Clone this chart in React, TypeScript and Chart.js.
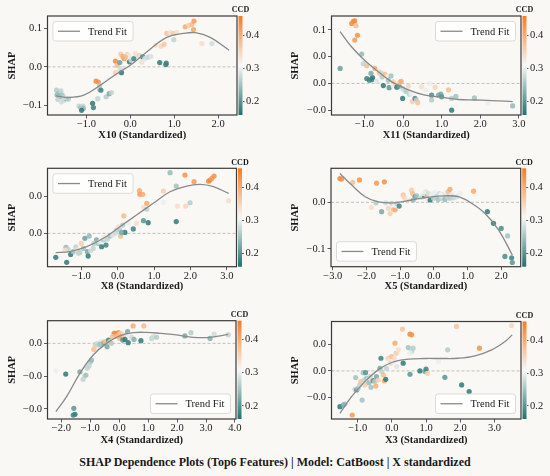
import React, { useEffect, useRef } from 'react';
import { Chart, registerables } from 'chart.js';

Chart.register(...registerables);

// ---------------- data ----------------
const TITLE = 'SHAP Dependence Plots (Top6 Features) | Model: CatBoost | X standardized';
const FEATURES = ['X10', 'X11', 'X8', 'X5', 'X4', 'X3'];

const CB_MIN = 0.16;
const CB_MAX = 0.457;
const CB_TICKS = [0.2, 0.3, 0.4];

// X10
const X10_X = [
  -1.68, -1.62, -1.58, -1.61, -1.65, -1.55, -1.52, -1.46, -1.41, -1.57,
  -1.67, -1.50, -1.17, -1.13, -1.08, -1.07, -1.11, -0.86, -0.84, -0.78,
  -0.73, -0.70, -0.70, -0.67, -0.74, -0.55, -0.48, -0.43, -0.34, -0.30,
  -0.34, -0.29, -0.24, -0.23, -0.20, -0.22, -0.17, -0.14, -0.07, -0.03,
  -0.02, 0.02, 0.08, 0.20, 0.23, 0.26, 0.28, 0.33, 0.38, 0.43,
  0.47, 0.58, 0.67, 0.70, 0.77, 0.81, 0.82, 0.83, 0.91, 0.98,
  1.06, 0.99, 1.25, 1.33, 1.40, 1.45, 1.44, 1.63, 1.86, -0.11,
  0.12,
];
const X10_SHAP = [
  -0.060, -0.067, -0.062, -0.077, -0.084, -0.073, -0.086, -0.082, -0.083, -0.090,
  -0.072, -0.079, -0.101, -0.105, -0.101, -0.107, -0.112, -0.094, -0.105, -0.037,
  -0.039, -0.048, -0.058, -0.060, -0.082, -0.077, -0.069, -0.066, 0.015, 0.004,
  -0.015, -0.015, 0.011, -0.004, -0.015, 0.033, 0.027, 0.021, 0.032, 0.029,
  0.013, 0.017, 0.021, 0.029, 0.026, 0.012, 0.026, 0.021, 0.024, 0.026,
  0.027, 0.056, 0.011, 0.053, 0.058, 0.006, 0.010, 0.086, 0.088, 0.086,
  0.089, 0.070, 0.103, 0.107, 0.109, 0.118, 0.096, 0.060, 0.060, 0.025,
  0.034,
];
const X10_CCD = [
  0.26, 0.25, 0.27, 0.24, 0.27, 0.25, 0.27, 0.24, 0.26, 0.28,
  0.24, 0.28, 0.27, 0.25, 0.27, 0.24, 0.17, 0.17, 0.18, 0.44,
  0.43, 0.26, 0.27, 0.18, 0.27, 0.26, 0.22, 0.27, 0.44, 0.38,
  0.36, 0.34, 0.21, 0.28, 0.17, 0.36, 0.40, 0.42, 0.35, 0.33,
  0.17, 0.28, 0.18, 0.27, 0.33, 0.34, 0.18, 0.29, 0.28, 0.27,
  0.29, 0.34, 0.17, 0.35, 0.37, 0.17, 0.18, 0.37, 0.34, 0.36,
  0.34, 0.27, 0.40, 0.36, 0.38, 0.42, 0.41, 0.34, 0.28, 0.38,
  0.34,
];
const X10_TREND_X = [-1.70, -1.44, -1.06, -0.68, -0.30, 0.00, 0.38, 0.83, 1.21, 1.48, 1.82, 2.25];
const X10_TREND_Y = [-0.075, -0.079, -0.073, -0.047, -0.017, 0.004, 0.039, 0.076, 0.086, 0.088, 0.076, 0.043];

// X11
const X11_X = [
  -1.33, -1.29, -1.25, -1.22, -1.18, -1.25, -1.63, -1.07, -1.03, -0.94,
  -0.94, -0.87, -0.81, -0.79, -0.83, -0.73, -0.64, -0.60, -0.57, -0.54,
  -0.51, -0.47, -0.42, -0.38, -0.36, -0.31, -0.25, -0.19, -0.16, -0.10,
  -0.08, -0.05, -0.01, -0.01, 0.03, 0.08, 0.14, 0.16, 0.21, 0.24,
  0.31, 0.35, 0.38, 0.48, 0.57, 0.70, 0.74, 0.74, 0.83, 0.92,
  0.98, 1.00, 1.18, 1.26, 1.37, 1.26, 1.85, 2.20, 2.84, -0.68,
  -0.25,
];
const X11_SHAP = [
  0.112, 0.116, 0.117, 0.108, 0.090, 0.081, 0.028, 0.055, 0.037, 0.033,
  0.009, 0.006, 0.007, 0.011, 0.019, 0.028, 0.023, 0.019, 0.020, 0.012,
  -0.004, 0.017, 0.012, 0.006, -0.008, 0.014, -0.005, -0.003, -0.007, -0.005,
  0.002, 0.004, -0.009, -0.028, -0.012, -0.015, -0.005, -0.020, -0.019, -0.034,
  -0.028, -0.031, -0.036, -0.006, -0.012, 0.000, -0.022, -0.031, -0.007, -0.022,
  -0.020, -0.025, -0.012, -0.028, -0.024, -0.050, -0.027, -0.037, -0.042, 0.004,
  0.003,
];
const X11_CCD = [
  0.44, 0.43, 0.44, 0.38, 0.43, 0.42, 0.21, 0.24, 0.27, 0.38,
  0.18, 0.18, 0.18, 0.17, 0.22, 0.40, 0.34, 0.38, 0.28, 0.26,
  0.17, 0.38, 0.32, 0.25, 0.20, 0.25, 0.30, 0.34, 0.17, 0.21,
  0.38, 0.40, 0.27, 0.17, 0.28, 0.26, 0.35, 0.27, 0.30, 0.36,
  0.19, 0.27, 0.37, 0.34, 0.30, 0.30, 0.19, 0.26, 0.35, 0.22,
  0.22, 0.20, 0.38, 0.26, 0.25, 0.17, 0.25, 0.30, 0.24, 0.29,
  0.36,
];
const X11_TREND_X = [-1.63, -1.33, -0.99, -0.64, -0.29, 0.14, 0.57, 1.00, 1.44, 1.87, 2.30, 2.84];
const X11_TREND_Y = [0.097, 0.068, 0.043, 0.022, 0.003, -0.012, -0.022, -0.026, -0.030, -0.031, -0.032, -0.034];

// X8
const X8_X = [
  -1.70, -1.40, -1.42, -1.36, -1.45, -1.29, -1.22, -1.15, -1.11, -1.04,
  -1.00, -0.94, -0.90, -0.83, -0.81, -0.78, -0.74, -0.67, -0.58, -0.53,
  -0.49, -0.44, -0.39, -0.38, -0.32, -0.28, -0.21, -0.14, -0.07, -0.03,
  0.02, 0.06, 0.08, 0.14, 0.17, 0.20, 0.11, 0.29, 0.43, 0.52,
  0.60, 0.61, 0.69, 0.71, 0.72, 0.80, 0.80, 0.84, 1.26, 1.26,
  1.44, 1.61, 1.61, 1.64, 1.85, 1.87, 1.99, 2.10, 2.50, 2.54,
  2.59, 2.65, 3.05, -1.08, -0.65,
];
const X8_SHAP = [
  -0.0131, -0.0158, -0.0076, -0.0087, -0.0091, -0.0115, -0.0100, -0.0073, -0.0091, -0.0105,
  -0.0055, -0.0082, -0.0027, -0.0100, -0.0124, -0.0015, -0.0095, -0.0082, -0.0036, -0.0055,
  -0.0045, -0.0073, -0.0036, -0.0022, -0.0064, -0.0031, -0.0015, -0.0009, 0.0000, 0.0018,
  0.0036, 0.0018, -0.0015, 0.0045, 0.0095, 0.0005, 0.0004, 0.0055, 0.0024, 0.0055,
  0.0233, 0.0213, 0.0213, 0.0069, 0.0142, 0.0164, 0.0131, 0.0058, 0.0231, 0.0169,
  0.0331, 0.0258, 0.0064, 0.0149, 0.0318, 0.0149, 0.0167, 0.0282, 0.0285, 0.0291,
  0.0300, 0.0313, 0.0178, -0.0109, -0.0055,
];
const X8_CCD = [
  0.17, 0.17, 0.24, 0.27, 0.34, 0.17, 0.25, 0.27, 0.34, 0.26,
  0.36, 0.25, 0.21, 0.22, 0.17, 0.24, 0.28, 0.27, 0.22, 0.25,
  0.30, 0.17, 0.26, 0.33, 0.18, 0.27, 0.25, 0.29, 0.28, 0.27,
  0.34, 0.26, 0.38, 0.26, 0.38, 0.17, 0.22, 0.30, 0.18, 0.34,
  0.40, 0.42, 0.40, 0.20, 0.34, 0.40, 0.27, 0.17, 0.36, 0.30,
  0.24, 0.25, 0.17, 0.34, 0.43, 0.35, 0.26, 0.42, 0.44, 0.44,
  0.42, 0.43, 0.34, 0.27, 0.26,
];
const X8_TREND_X = [-1.70, -1.31, -0.85, -0.39, 0.06, 0.52, 0.98, 1.44, 1.90, 2.27, 2.63, 3.05];
const X8_TREND_Y = [-0.0105, -0.0100, -0.0073, -0.0027, 0.0036, 0.0100, 0.0164, 0.0227, 0.0258, 0.0267, 0.0255, 0.0218];

// X5
const X5_X = [
  -2.79, -2.74, -2.41, -2.21, -1.70, -1.47, -1.85, -1.72, -1.55, -1.43,
  -1.35, -1.30, -1.20, -1.15, -1.25, -1.17, -1.10, -1.03, -0.91, -0.88,
  -0.83, -0.66, -0.63, -0.71, -0.56, -0.51, -0.36, -0.28, -0.24, -0.21,
  -0.18, -0.16, -0.11, -0.06, -0.01, 0.03, 0.08, 0.13, 0.16, 0.23,
  0.28, 0.33, 0.35, 0.41, 0.43, 0.48, 0.48, 0.53, 0.58, 0.68,
  0.78, 1.18, 1.59, 1.77, 2.00, 2.19, 2.11, 2.31, 2.33, -0.32,
  0.21, -0.61,
];
const X5_SHAP = [
  0.051, 0.050, 0.043, 0.048, 0.041, 0.044, -0.011, -0.001, -0.020, -0.001,
  -0.013, -0.024, -0.015, -0.016, -0.002, -0.006, -0.002, -0.008, 0.016, 0.011,
  0.005, 0.026, 0.019, 0.005, 0.012, 0.014, 0.011, 0.014, 0.023, 0.012,
  0.006, 0.019, 0.005, 0.016, 0.009, 0.021, 0.012, 0.006, 0.019, 0.009,
  0.016, 0.006, 0.021, 0.012, 0.023, 0.028, 0.009, 0.016, 0.010, 0.012,
  0.019, 0.024, -0.020, -0.045, -0.056, -0.072, -0.116, -0.119, -0.129, 0.019,
  0.016, 0.005,
];
const X5_CCD = [
  0.44, 0.43, 0.38, 0.43, 0.42, 0.43, 0.34, 0.26, 0.22, 0.28,
  0.35, 0.36, 0.38, 0.40, 0.27, 0.30, 0.27, 0.18, 0.37, 0.35,
  0.34, 0.36, 0.38, 0.33, 0.20, 0.25, 0.28, 0.18, 0.29, 0.38,
  0.30, 0.28, 0.17, 0.30, 0.26, 0.30, 0.27, 0.25, 0.28, 0.27,
  0.26, 0.24, 0.30, 0.27, 0.38, 0.40, 0.26, 0.29, 0.27, 0.28,
  0.30, 0.40, 0.17, 0.17, 0.19, 0.25, 0.19, 0.18, 0.20, 0.30,
  0.31, 0.24,
];
const X5_TREND_X = [-2.79, -2.44, -2.04, -1.65, -1.15, -0.66, -0.16, 0.33, 0.73, 1.12, 1.52, 1.92, 2.33];
const X5_TREND_Y = [0.062, 0.037, 0.012, 0.001, -0.001, 0.005, 0.011, 0.014, 0.012, -0.002, -0.024, -0.059, -0.113];

// X4
const X4_X = [
  -2.19, -1.85, -1.57, -1.53, -1.59, -1.36, -1.25, -1.19, -1.15, -1.11,
  -1.04, -0.99, -0.96, -0.88, -0.83, -0.81, -0.73, -0.69, -0.61, -0.55,
  -0.50, -0.67, -0.42, -0.37, -0.32, -0.27, -0.18, -0.15, -0.09, -0.03,
  0.00, 0.05, 0.02, 0.08, 0.12, 0.16, 0.20, 0.31, 0.29, 0.35,
  0.43, 0.48, 0.51, 0.75, 0.85, 1.12, 1.18, 1.29, 2.27, 2.48,
  3.14, 3.28, 3.77, -0.23, -0.07,
];
const X4_SHAP = [
  -0.0167, -0.0187, -0.0396, -0.0432, -0.0437, -0.0173, -0.0219, -0.0199, -0.0193, -0.0152,
  -0.0136, -0.0112, -0.0102, -0.0037, -0.0014, -0.0004, 0.0000, -0.0010, 0.0010, 0.0000,
  0.0010, -0.0006, -0.0020, 0.0020, 0.0010, 0.0000, 0.0061, 0.0061, 0.0051, 0.0065,
  0.0057, 0.0061, 0.0030, 0.0041, 0.0020, 0.0051, 0.0024, 0.0004, 0.0071, 0.0051,
  0.0037, 0.0106, 0.0024, 0.0016, 0.0106, 0.0030, 0.0041, 0.0037, 0.0045, 0.0065,
  0.0030, 0.0057, 0.0053, 0.0041, 0.0045,
];
const X4_CCD = [
  0.30, 0.17, 0.20, 0.17, 0.18, 0.22, 0.27, 0.27, 0.25, 0.27,
  0.27, 0.26, 0.24, 0.38, 0.36, 0.27, 0.28, 0.27, 0.34, 0.20,
  0.38, 0.25, 0.22, 0.18, 0.36, 0.26, 0.42, 0.44, 0.43, 0.44,
  0.40, 0.36, 0.38, 0.42, 0.20, 0.35, 0.17, 0.17, 0.22, 0.30,
  0.28, 0.40, 0.23, 0.17, 0.38, 0.27, 0.28, 0.26, 0.22, 0.26,
  0.23, 0.28, 0.27, 0.38, 0.38,
];
const X4_TREND_X = [-2.19, -1.82, -1.36, -0.90, -0.44, 0.02, 0.48, 0.95, 1.41, 1.98, 2.56, 3.14, 3.77];
const X4_TREND_Y = [-0.0416, -0.0325, -0.0183, -0.0071, 0.0000, 0.0045, 0.0065, 0.0067, 0.0061, 0.0051, 0.0037, 0.0037, 0.0055];

// X3
const X3_X = [
  -1.52, -1.42, -1.38, -1.16, -1.08, -1.06, -1.03, -0.99, -0.94, -0.91,
  -0.87, -0.84, -0.81, -0.79, -0.77, -0.74, -0.69, -0.67, -0.64, -0.61,
  -0.60, -0.55, -0.50, -0.47, -0.45, -0.40, -0.35, -0.32, -0.30, -0.25,
  -0.22, -0.18, -0.16, -0.11, -0.06, -0.03, -0.01, 0.04, 0.07, 0.09,
  0.12, 0.14, 0.19, 0.31, 0.33, 0.48, 0.53, 0.58, 0.53, 0.58,
  0.62, 0.53, 0.82, 0.97, 1.00, 1.04, 1.36, 1.55, 1.63, 1.89,
  2.04, 2.26, 2.56, 3.50,
];
const X3_SHAP = [
  -0.0268, -0.0255, -0.0248, -0.0330, -0.0138, -0.0050, -0.0143, -0.0130, -0.0105, -0.0080,
  -0.0218, -0.0013, -0.0068, -0.0105, -0.0013, -0.0055, -0.0068, -0.0088, -0.0043, -0.0123,
  -0.0063, -0.0073, -0.0080, -0.0113, -0.0043, -0.0068, 0.0020, 0.0095, -0.0005, -0.0030,
  -0.0075, -0.0063, 0.0020, 0.0095, 0.0083, 0.0058, 0.0108, 0.0070, 0.0095, 0.0208,
  0.0133, 0.0033, 0.0158, 0.0313, 0.0058, 0.0175, 0.0275, 0.0270, -0.0025, 0.0145,
  0.0170, 0.0133, 0.0000, -0.0005, 0.0013, -0.0018, 0.0070, -0.0048, 0.0158, 0.0333,
  -0.0105, -0.0155, 0.0170, 0.0340,
];
const X3_CCD = [
  0.17, 0.22, 0.24, 0.42, 0.27, 0.25, 0.20, 0.25, 0.27, 0.37,
  0.25, 0.25, 0.27, 0.36, 0.20, 0.25, 0.30, 0.24, 0.27, 0.25,
  0.34, 0.20, 0.26, 0.40, 0.22, 0.36, 0.22, 0.18, 0.27, 0.38,
  0.40, 0.17, 0.27, 0.36, 0.33, 0.35, 0.38, 0.30, 0.34, 0.40,
  0.36, 0.29, 0.34, 0.37, 0.17, 0.25, 0.44, 0.43, 0.20, 0.27,
  0.26, 0.30, 0.17, 0.22, 0.18, 0.36, 0.30, 0.20, 0.26, 0.37,
  0.17, 0.17, 0.43, 0.35,
];
const X3_TREND_X = [-1.52, -1.18, -0.79, -0.40, -0.01, 0.48, 0.97, 1.45, 1.94, 2.43, 2.92, 3.31, 3.52];
const X3_TREND_Y = [-0.0318, -0.0193, -0.0080, 0.0008, 0.0063, 0.0088, 0.0093, 0.0093, 0.0095, 0.0113, 0.0158, 0.0220, 0.0270];

// axis ticks
const X10_XTICKS = [-1, 0, 1, 2];
const X11_XTICKS = [-1, 0, 1, 2, 3];
const X8_XTICKS = [-1, 0, 1, 2, 3];
const X5_XTICKS = [-3, -2, -1, 0, 1, 2];
const X4_XTICKS = [-2, -1, 0, 1, 2, 3, 4];
const X3_XTICKS = [-1, 0, 1, 2, 3];

const X10_YTICKS = [-0.1, 0, 0.1];
const X10_YLABELS = ['\u22120.1', '0.0', '0.1'];
const X11_YTICKS = [-0.05, 0, 0.05, 0.1];
const X11_YLABELS = ['\u22120.0', '0.0', '0.0', '0.1'];
const X8_YTICKS = [0, 0.02];
const X8_YLABELS = ['0.0', '0.0'];
const X5_YTICKS = [-0.1, 0];
const X5_YLABELS = ['\u22120.1', '0.0'];
const X4_YTICKS = [-0.04, -0.02, 0];
const X4_YLABELS = ['\u22120.0', '\u22120.0', '0.0'];
const X3_YTICKS = [-0.02, 0, 0.02];
const X3_YLABELS = ['\u22120.0', '0.0', '0.0'];

// ---------------- styling / layout ----------------
const SERIF = '"Liberation Serif", "Times New Roman", "DejaVu Serif", serif';
const BG = '#faf8f4';
const TEXT = '#1a1a1a';
const TREND_COLOR = '#8a8a8a';
const W = 275;
const H = 150;
const CB_GAP = 1.5;
const CB_W = 4;

type Corner = 'ul' | 'ur' | 'll' | 'lr';
interface PanelCfg {
  feature: string;
  xs: number[]; ys: number[]; cs: number[];
  tx: number[]; ty: number[];
  xTicks: number[]; yTicks: number[]; yLabels: string[];
  xRange: [number, number]; yRange: [number, number];
  left: number; top: number;
  area: { l: number; t: number; r: number; b: number };
  yTitleX: number; xTitleY: number;
  legend: Corner;
}

const PANELS: PanelCfg[] = [
  {
    feature: FEATURES[0], xs: X10_X, ys: X10_SHAP, cs: X10_CCD, tx: X10_TREND_X, ty: X10_TREND_Y,
    xTicks: X10_XTICKS, yTicks: X10_YTICKS, yLabels: X10_YLABELS,
    xRange: [-1.886, 2.43], yRange: [-0.124, 0.131],
    left: 0, top: 0, area: { l: 47.5, t: 16, r: 237, b: 115 }, yTitleX: 12, xTitleY: 135.7, legend: 'ul',
  },
  {
    feature: FEATURES[1], xs: X11_X, ys: X11_SHAP, cs: X11_CCD, tx: X11_TREND_X, ty: X11_TREND_Y,
    xTicks: X11_XTICKS, yTicks: X11_YTICKS, yLabels: X11_YLABELS,
    xRange: [-1.853, 3.056], yRange: [-0.059, 0.126],
    left: 275, top: 0, area: { l: 56.5, t: 16, r: 246, b: 115 }, yTitleX: 20.5, xTitleY: 135.7, legend: 'ur',
  },
  {
    feature: FEATURES[2], xs: X8_X, ys: X8_SHAP, cs: X8_CCD, tx: X8_TREND_X, ty: X8_TREND_Y,
    xTicks: X8_XTICKS, yTicks: X8_YTICKS, yLabels: X8_YLABELS,
    xRange: [-1.927, 3.266], yRange: [-0.0182, 0.0355],
    left: 0, top: 150, area: { l: 47.5, t: 18.3, r: 236.5, b: 116.7 }, yTitleX: 12.5, xTitleY: 136.7, legend: 'ul',
  },
  {
    feature: FEATURES[3], xs: X5_X, ys: X5_SHAP, cs: X5_CCD, tx: X5_TREND_X, ty: X5_TREND_Y,
    xTicks: X5_XTICKS, yTicks: X5_YTICKS, yLabels: X5_YLABELS,
    xRange: [-3.054, 2.579], yRange: [-0.138, 0.073],
    left: 275, top: 150, area: { l: 56, t: 18.3, r: 245.7, b: 116.7 }, yTitleX: 20.5, xTitleY: 136.7, legend: 'll',
  },
  {
    feature: FEATURES[4], xs: X4_X, ys: X4_SHAP, cs: X4_CCD, tx: X4_TREND_X, ty: X4_TREND_Y,
    xTicks: X4_XTICKS, yTicks: X4_YTICKS, yLabels: X4_YLABELS,
    xRange: [-2.48, 4.037], yRange: [-0.0461, 0.0138],
    left: 0, top: 300, area: { l: 47.5, t: 20.7, r: 236, b: 119 }, yTitleX: 12.5, xTitleY: 140, legend: 'lr',
  },
  {
    feature: FEATURES[5], xs: X3_X, ys: X3_SHAP, cs: X3_CCD, tx: X3_TREND_X, ty: X3_TREND_Y,
    xTicks: X3_XTICKS, yTicks: X3_YTICKS, yLabels: X3_YLABELS,
    xRange: [-1.766, 3.776], yRange: [-0.036, 0.037],
    left: 275, top: 300, area: { l: 56.5, t: 21.5, r: 246, b: 119 }, yTitleX: 20.5, xTitleY: 140, legend: 'lr',
  },
];

function cmapRGB(v: number): number[] {
  const t = Math.min(1, Math.max(0, (v - CB_MIN) / (CB_MAX - CB_MIN)));
  const lo = [32, 112, 110];
  const mid = [247, 247, 246];
  const hi = [244, 124, 34];
  const a = t < 0.5 ? lo : mid;
  const b = t < 0.5 ? mid : hi;
  const u = t < 0.5 ? t / 0.5 : (t - 0.5) / 0.5;
  return a.map((c, i) => Math.round(c + (b[i] - c) * u));
}
function rgba(v: number, alpha: number): string {
  const [r, g, b] = cmapRGB(v);
  return `rgba(${r},${g},${b},${alpha})`;
}
function fmtTick(v: number): string {
  return v < 0 ? '\u2212' + Math.abs(v).toFixed(1) : v.toFixed(1);
}

function makeConfig(p: PanelCfg): any {
  const a = p.area;
  const tickFont = { family: SERIF, size: 10.5, lineHeight: 1 };
  const titleFont = { family: SERIF, size: 10.5, weight: 'bold', lineHeight: 1.2 };
  const gridCommon = { drawOnChartArea: false, drawTicks: true, tickLength: 3.5, tickColor: '#333', tickWidth: 0.8 };

  const decor = {
    id: 'panelDecor',
    beforeDatasetsDraw(chart: any) {
      const { ctx, chartArea: ca } = chart;
      const y0 = chart.scales.y.getPixelForValue(0);
      ctx.save();
      ctx.strokeStyle = '#b3b3b3';
      ctx.lineWidth = 0.8;
      ctx.setLineDash([3, 2]);
      ctx.beginPath();
      ctx.moveTo(ca.left, y0);
      ctx.lineTo(ca.right, y0);
      ctx.stroke();
      ctx.restore();
    },
    afterDraw(chart: any) {
      const { ctx, chartArea: ca } = chart;
      const cb = chart.scales.cb;
      ctx.save();
      // colorbar
      const x0 = ca.right + CB_GAP;
      const yTop = cb.getPixelForValue(CB_MAX);
      const yBot = cb.getPixelForValue(CB_MIN);
      const g = ctx.createLinearGradient(0, yBot, 0, yTop);
      for (let k = 0; k <= 20; k++) {
        g.addColorStop(k / 20, rgba(CB_MIN + ((CB_MAX - CB_MIN) * k) / 20, 1));
      }
      ctx.fillStyle = g;
      ctx.fillRect(x0, yTop, CB_W, yBot - yTop);
      ctx.fillStyle = TEXT;
      ctx.font = `bold 8px ${SERIF}`;
      ctx.textAlign = 'center';
      ctx.textBaseline = 'middle';
      ctx.fillText('CCD', x0 + CB_W / 2, ca.top - 5.7);
      // frame
      ctx.strokeStyle = '#3a3a3a';
      ctx.lineWidth = 1.2;
      ctx.strokeRect(ca.left, ca.top, ca.right - ca.left, ca.bottom - ca.top);
      // legend
      const bw = 80;
      const bh = 19.5;
      const ins = 5.5;
      const bx = p.legend[1] === 'l' ? ca.left + ins : ca.right - ins - bw;
      const by = p.legend[0] === 'u' ? ca.top + ins : ca.bottom - ins - bh;
      ctx.beginPath();
      if (ctx.roundRect) ctx.roundRect(bx, by, bw, bh, 2.5);
      else ctx.rect(bx, by, bw, bh);
      ctx.fillStyle = 'rgba(255,255,255,0.8)';
      ctx.fill();
      ctx.strokeStyle = '#d2d2d2';
      ctx.lineWidth = 0.8;
      ctx.stroke();
      ctx.beginPath();
      ctx.moveTo(bx + 5, by + bh / 2);
      ctx.lineTo(bx + 27, by + bh / 2);
      ctx.strokeStyle = TREND_COLOR;
      ctx.lineWidth = 1.3;
      ctx.stroke();
      ctx.fillStyle = TEXT;
      ctx.font = `10.5px ${SERIF}`;
      ctx.textAlign = 'left';
      ctx.textBaseline = 'middle';
      ctx.fillText('Trend Fit', bx + 35, by + bh / 2 + 0.5);
      ctx.restore();
    },
  };

  return {
    type: 'scatter',
    data: {
      datasets: [
        {
          type: 'line',
          label: 'Trend Fit',
          data: p.tx.map((x, i) => ({ x, y: p.ty[i] })),
          borderColor: TREND_COLOR,
          borderWidth: 1.3,
          pointRadius: 0,
          tension: 0.4,
          fill: false,
          order: 0,
        },
        {
          type: 'scatter',
          label: 'points',
          data: p.xs.map((x, i) => ({ x, y: p.ys[i] })),
          pointRadius: 2.6,
          pointBorderWidth: 0,
          pointBackgroundColor: p.cs.map((c) => rgba(c, 0.85)),
          order: 1,
        },
      ],
    },
    options: {
      animation: false,
      responsive: false,
      events: [],
      layout: { padding: { left: 0, top: a.t, right: 0, bottom: 0 } },
      plugins: { legend: { display: false }, tooltip: { enabled: false }, title: { display: false } },
      scales: {
        x: {
          type: 'linear',
          position: 'bottom',
          min: p.xRange[0],
          max: p.xRange[1],
          afterBuildTicks: (s: any) => { s.ticks = p.xTicks.map((v) => ({ value: v })); },
          afterFit: (s: any) => { s.height = H - a.b; },
          ticks: { autoSkip: false, maxRotation: 0, font: tickFont, color: TEXT, padding: 0.5, callback: (v: any) => fmtTick(Number(v)) },
          grid: gridCommon,
          border: { display: false },
          title: { display: true, text: `${p.feature} (Standardized)`, font: titleFont, color: TEXT, padding: { top: 0, bottom: H - p.xTitleY - 6.3 } },
        },
        y: {
          type: 'linear',
          position: 'left',
          min: p.yRange[0],
          max: p.yRange[1],
          afterBuildTicks: (s: any) => { s.ticks = p.yTicks.map((v) => ({ value: v })); },
          afterFit: (s: any) => { s.width = a.l; },
          ticks: { autoSkip: false, font: tickFont, color: TEXT, padding: 2, callback: (_v: any, i: number) => p.yLabels[i] },
          grid: gridCommon,
          border: { display: false },
          title: { display: true, text: 'SHAP', font: titleFont, color: TEXT, padding: { top: p.yTitleX - 6.3, bottom: 0 } },
        },
        gap: {
          type: 'linear',
          position: 'right',
          weight: 0,
          afterFit: (s: any) => { s.width = CB_GAP + CB_W; },
          ticks: { display: false },
          grid: { display: false },
          border: { display: false },
        },
        cb: {
          type: 'linear',
          position: 'right',
          weight: 1,
          min: CB_MIN,
          max: CB_MAX,
          afterBuildTicks: (s: any) => { s.ticks = CB_TICKS.map((v) => ({ value: v })); },
          afterFit: (s: any) => { s.width = W - a.r - CB_GAP - CB_W; },
          ticks: { autoSkip: false, font: tickFont, color: TEXT, padding: 1.5, callback: (v: any) => Number(v).toFixed(1) },
          grid: { drawOnChartArea: false, drawTicks: true, tickLength: 2, tickColor: '#333', tickWidth: 0.8 },
          border: { display: false },
        },
      },
    },
    plugins: [decor],
  };
}

function Panel({ p }: { p: PanelCfg }) {
  const ref = useRef<HTMLCanvasElement | null>(null);
  useEffect(() => {
    if (!ref.current) return;
    const chart = new Chart(ref.current, makeConfig(p));
    return () => chart.destroy();
  }, [p]);
  return (
    <canvas
      ref={ref}
      width={W}
      height={H}
      style={{ position: 'absolute', left: p.left, top: p.top, width: W, height: H }}
    />
  );
}

export default function App() {
  return (
    <div style={{ position: 'absolute', left: 0, top: 0, width: 550, height: 476, background: BG, overflow: 'hidden' }}>
      {PANELS.map((p, i) => (
        <Panel key={i} p={p} />
      ))}
      <div
        style={{
          position: 'absolute', left: 0, top: 452, width: 550, textAlign: 'center',
          fontFamily: SERIF, fontWeight: 'bold', fontSize: 12, lineHeight: '20px', color: TEXT, whiteSpace: 'nowrap',
        }}
      >
        {TITLE}
      </div>
    </div>
  );
}
